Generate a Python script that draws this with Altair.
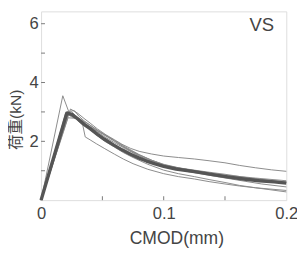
import altair as alt
import pandas as pd

# CMOD (mm) / load (kN) for each specimen (thin) and the mean (thick)
cmod_1 = [0, 0.024, 0.03, 0.035, 0.04, 0.046, 0.053, 0.06, 0.066, 0.073, 0.08, 0.09, 0.1,
          0.112, 0.125, 0.137, 0.15, 0.162, 0.175, 0.188, 0.2]
load_1 = [0, 3.1, 2.95, 2.78, 2.62, 2.42, 2.22, 2.05, 1.9, 1.76, 1.66, 1.57, 1.5,
          1.45, 1.4, 1.34, 1.27, 1.18, 1.1, 1.03, 0.98]

cmod_2 = [0, 0.0177, 0.024, 0.03, 0.035, 0.04, 0.05, 0.06, 0.067, 0.075, 0.087, 0.1,
          0.112, 0.125, 0.137, 0.15, 0.175, 0.2]
load_2 = [0, 3.55, 2.85, 2.75, 2.62, 2.5, 2.25, 2.0, 1.82, 1.62, 1.4, 1.2,
          1.1, 1.0, 0.92, 0.85, 0.75, 0.66]

cmod_3 = [0, 0.02, 0.026, 0.03, 0.034, 0.036, 0.04, 0.045, 0.052, 0.06, 0.067, 0.075, 0.087,
          0.1, 0.112, 0.125, 0.137, 0.15, 0.162, 0.175, 0.2]
load_3 = [0, 2.85, 2.95, 2.7, 2.55, 2.15, 2.05, 1.92, 1.75, 1.56, 1.4, 1.24, 1.05,
          0.9, 0.8, 0.72, 0.63, 0.55, 0.48, 0.42, 0.33]

cmod_4 = [0, 0.022, 0.03, 0.035, 0.04, 0.045, 0.052, 0.06, 0.067, 0.075, 0.087, 0.1,
          0.112, 0.125, 0.137, 0.15, 0.162, 0.175, 0.2]
load_4 = [0, 2.8, 2.78, 2.6, 2.4, 2.22, 2.0, 1.8, 1.62, 1.45, 1.22, 1.02,
          0.9, 0.8, 0.7, 0.6, 0.5, 0.42, 0.28]

cmod_5 = [0, 0.021, 0.027, 0.031, 0.035, 0.04, 0.045, 0.052, 0.06, 0.07, 0.08, 0.09, 0.1,
          0.112, 0.125, 0.137, 0.15, 0.175, 0.2]
load_5 = [0, 3.0, 3.05, 2.85, 2.7, 2.55, 2.4, 2.22, 2.03, 1.78, 1.55, 1.36, 1.22,
          1.1, 1.02, 0.95, 0.88, 0.72, 0.6]

cmod_6 = [0, 0.022, 0.028, 0.034, 0.04, 0.047, 0.055, 0.062, 0.07, 0.08, 0.09, 0.1,
          0.11, 0.12, 0.13, 0.142, 0.155, 0.168, 0.18, 0.2]
load_6 = [0, 2.9, 2.85, 2.7, 2.55, 2.35, 2.15, 1.95, 1.75, 1.54, 1.36, 1.2,
          1.07, 0.97, 0.9, 0.81, 0.72, 0.63, 0.55, 0.45]

cmod_7 = [0, 0.02, 0.025, 0.028, 0.032, 0.038, 0.045, 0.052, 0.06, 0.07, 0.08, 0.09, 0.1,
          0.115, 0.13, 0.145, 0.16, 0.18, 0.2]
load_7 = [0, 2.95, 3.0, 2.88, 2.75, 2.55, 2.35, 2.15, 1.95, 1.72, 1.5, 1.32, 1.18,
          1.05, 0.95, 0.86, 0.78, 0.7, 0.62]

cmod_mean = [0, 0.021, 0.025, 0.03, 0.035, 0.04, 0.046, 0.052, 0.059, 0.066, 0.073, 0.08,
             0.086, 0.093, 0.1, 0.11, 0.125, 0.14, 0.152, 0.165, 0.178, 0.19, 0.2]
load_mean = [0, 2.96, 2.92, 2.76, 2.58, 2.43, 2.24, 2.06, 1.88, 1.71, 1.56, 1.43,
             1.33, 1.23, 1.15, 1.06, 0.97, 0.87, 0.79, 0.72, 0.66, 0.62, 0.58]

x_ticks = [0.05, 0.1, 0.15]
y_ticks = [1, 2, 3, 4, 5, 6]
x_labels = [0, 0.1, 0.2]
y_labels = [2, 4, 6]

thin = [(cmod_1, load_1), (cmod_2, load_2), (cmod_3, load_3), (cmod_4, load_4),
        (cmod_5, load_5), (cmod_6, load_6), (cmod_7, load_7)]
rows = []
for i, (xs_, ys_) in enumerate(thin):
    for j, (a, b) in enumerate(zip(xs_, ys_)):
        rows.append({"s": f"s{i+1}", "cmod": a, "load": b, "o": j})
thin_df = pd.DataFrame(rows)
mean_df = pd.DataFrame({"cmod": cmod_mean, "load": load_mean, "o": range(len(cmod_mean))})

W, H = 252, 194
FONT = "Liberation Sans, Noto Sans CJK JP, sans-serif"
TXT = "#444444"

xs = alt.Scale(domain=[0, 0.2], nice=False, zero=False)
ys = alt.Scale(domain=[0, 6.42], nice=False)

xaxis = alt.Axis(values=x_labels, format="~g", ticks=False, domain=False, grid=False,
                 labelPadding=6, labelFontSize=17, labelColor=TXT, labelFont=FONT,
                 title="CMOD(mm)", titleFontSize=18, titleFont=FONT, titleColor=TXT,
                 titleFontWeight="normal", titleX=139, titleY=40, titleBaseline="middle",
                 titleAnchor="start", titleAlign="center", labelFlush=False)
yaxis = alt.Axis(values=y_labels, format="d", ticks=False, domain=False, grid=False,
                 labelPadding=3, labelFontSize=17, labelColor=TXT, labelFont=FONT,
                 title="荷重(kN)", titleFontSize=16, titleFont=FONT, titleColor=TXT,
                 titleFontWeight="normal", titleX=-26, titleY=111, titleAngle=-90,
                 titleAlign="center", titleBaseline="middle", titleAnchor="start")

thin_lines = alt.Chart(thin_df).mark_line(color="#8a8a8a", strokeWidth=1).encode(
    x=alt.X("cmod:Q", scale=xs, axis=xaxis),
    y=alt.Y("load:Q", scale=ys, axis=yaxis),
    detail="s:N",
    order="o:Q",
)
mean_line = alt.Chart(mean_df).mark_line(color="#555555", strokeWidth=3.5,
                                         strokeJoin="round").encode(
    x=alt.X("cmod:Q", scale=xs),
    y=alt.Y("load:Q", scale=ys),
    order="o:Q",
)
xt = alt.Chart(pd.DataFrame({"v": x_ticks})).mark_rule(color="#777777", strokeWidth=1).encode(
    x=alt.X("v:Q", scale=xs), y=alt.value(H), y2=alt.value(H - 4))
yt = alt.Chart(pd.DataFrame({"v": y_ticks})).mark_rule(color="#777777", strokeWidth=1).encode(
    y=alt.Y("v:Q", scale=ys), x=alt.value(0), x2=alt.value(4))
label = alt.Chart(pd.DataFrame({"cmod": [0.19], "load": [5.76], "t": ["VS"]})).mark_text(
    align="right", baseline="alphabetic", fontSize=19, font=FONT, color=TXT).encode(
    x=alt.X("cmod:Q", scale=xs), y=alt.Y("load:Q", scale=ys), text="t:N")

chart = alt.layer(thin_lines, mean_line, xt, yt, label).properties(
    width=W, height=H,
    autosize=alt.AutoSizeParams(type="none"),
    padding={"left": 34, "top": 0, "right": 11, "bottom": 56},
).configure_view(stroke="#777777", strokeWidth=1).configure(background="white")

chart.save("out.html", embed_options={"renderer": "svg", "actions": False})
